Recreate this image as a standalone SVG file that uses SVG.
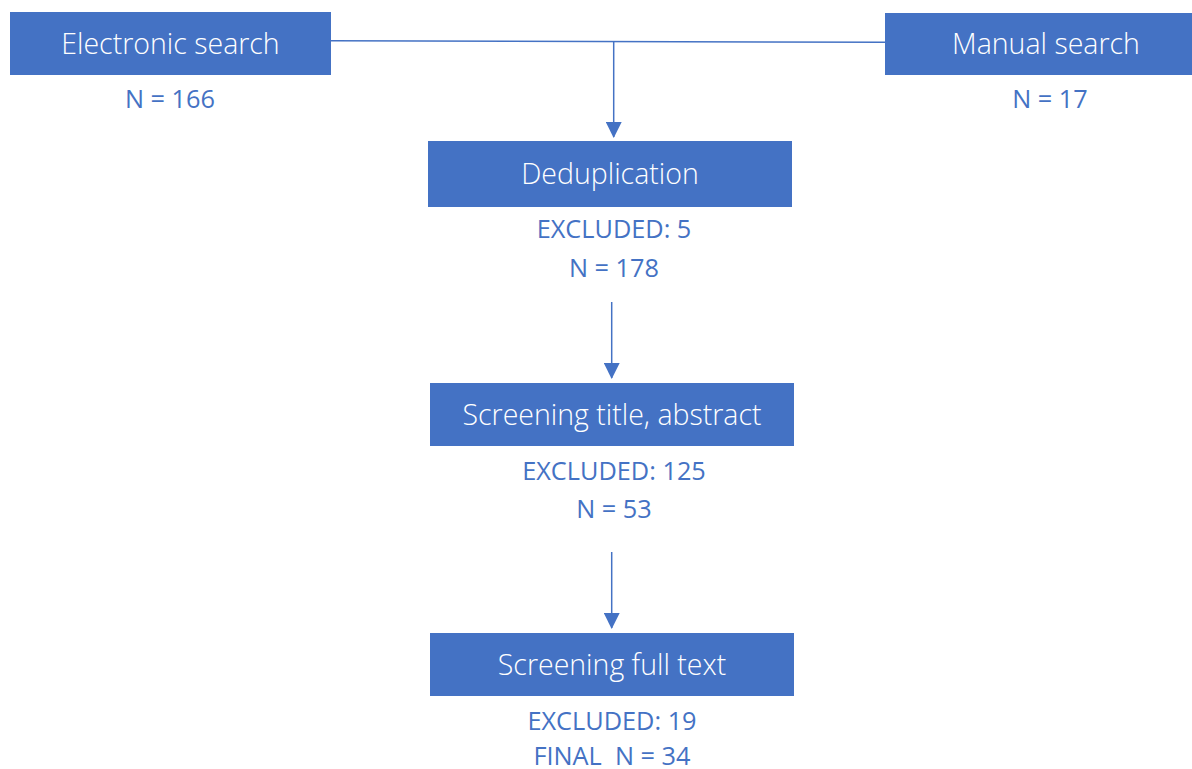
<svg xmlns="http://www.w3.org/2000/svg" width="1192" height="769" viewBox="0 0 1192 769">
<defs>
<style>
.box{fill:#4472C4}
.t{font-family:"Open Sans","Liberation Sans",sans-serif;font-weight:300;font-size:28.5px;fill:#FFFFFF;text-anchor:middle}
.l{font-family:"Open Sans","Liberation Sans",sans-serif;font-weight:400;font-size:25.3px;fill:#4472C4;text-anchor:middle}
.c{stroke:#4472C4;stroke-width:1.5;fill:none}
</style>
<marker id="ah" markerUnits="userSpaceOnUse" markerWidth="16" markerHeight="16" viewBox="0 0 16 16" refX="15" refY="8" orient="auto">
<path d="M0,0 L16,8 L0,16 Z" fill="#4472C4"/>
</marker>
</defs>
<rect width="1192" height="769" fill="#FFFFFF"/>
<g id="connectors">
<path class="c" d="M331,40.7 L885,42.3"/>
<path class="c" d="M613.7,41.3 L613.7,137" marker-end="url(#ah)"/>
<path class="c" d="M611.7,302 L611.7,378" marker-end="url(#ah)"/>
<path class="c" d="M611.7,552 L611.7,628" marker-end="url(#ah)"/>
</g>
<g id="electronic">
<rect class="box" x="10" y="12" width="321" height="63"/>
<text class="t" x="170.5" y="54">Electronic search</text>
<text class="l" x="170" y="108">N = 166</text>
</g>
<g id="manual">
<rect class="box" x="885" y="13" width="321" height="62"/>
<text class="t" x="1046" y="54">Manual search</text>
<text class="l" x="1050" y="108">N = 17</text>
</g>
<g id="dedup">
<rect class="box" x="428" y="141" width="364" height="66"/>
<text class="t" x="610" y="184">Deduplication</text>
<text class="l" x="614" y="238">EXCLUDED: 5</text>
<text class="l" x="614" y="277">N = 178</text>
</g>
<g id="screen-title">
<rect class="box" x="430" y="383" width="364" height="63"/>
<text class="t" x="612" y="425">Screening title, abstract</text>
<text class="l" x="614" y="480">EXCLUDED: 125</text>
<text class="l" x="614" y="518">N = 53</text>
</g>
<g id="screen-full">
<rect class="box" x="430" y="633" width="364" height="63"/>
<text class="t" x="612" y="675">Screening full text</text>
<text class="l" x="612" y="730">EXCLUDED: 19</text>
<text class="l" x="612" y="765" xml:space="preserve">FINAL  N = 34</text>
</g>
</svg>
